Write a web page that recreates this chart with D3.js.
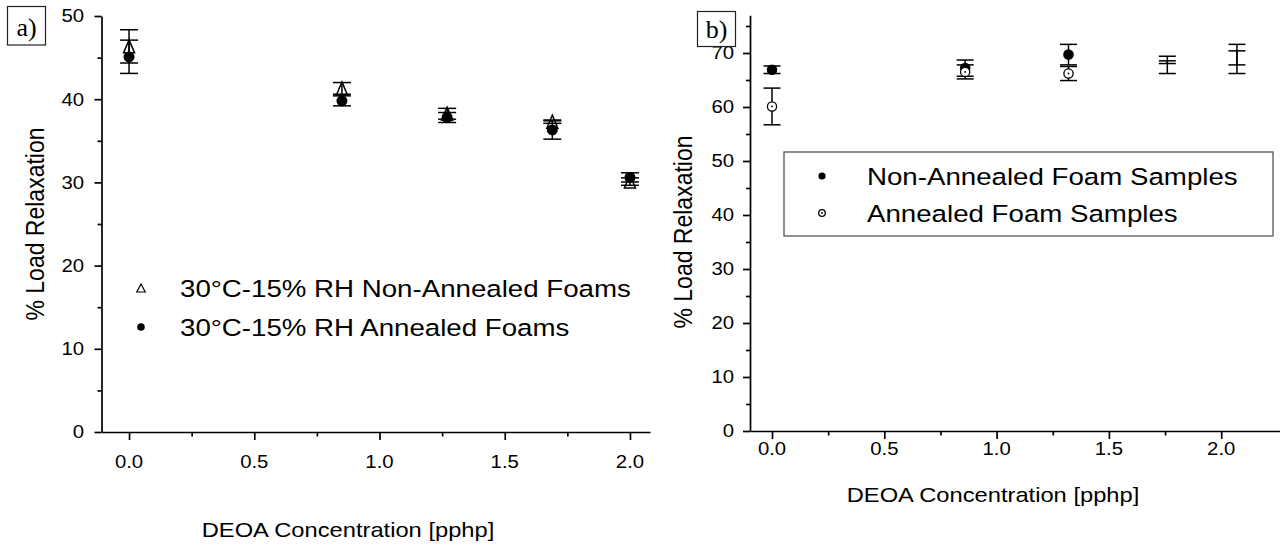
<!DOCTYPE html>
<html>
<head>
<meta charset="utf-8">
<script src="https://cdn.jsdelivr.net/npm/d3@7"></script>
<style>
  body { margin: 0; background: #fff; }
  text { font-family: "Liberation Sans", Arial, sans-serif; fill: #000; }
  .serif { font-family: "Liberation Serif", "Times New Roman", serif; }
</style>
</head>
<body>
<svg id="chart" width="1280" height="546"></svg>
<script>
// ---- Panel a: 30°C / 15% RH load relaxation ----
const concA = [0, 0.85, 1.27, 1.69, 2.0];
const nonAnnealedA = [46.35, 41.3, 38.25, 37.3, 30.1];
const nonAnnealedAErr = [2.0, 0.7, 0.65, 0.2, 0.45];
const annealedA = [45.1, 39.8, 37.8, 36.3, 30.6];
const annealedAErr = [2.0, 0.6, 0.6, 1.1, 0.55];
const yTicksA = [0, 10, 20, 30, 40, 50];
const yMinorA = [5, 15, 25, 35, 45];

// ---- Panel b: non-annealed vs annealed foam samples ----
const concB = [0, 0.86, 1.32, 1.76, 2.07];
const nonAnnealedB = [66.9, 67.2, 69.7, 67.8, 68.9];
const nonAnnealedBErr = [0.7, 1.5, 1.9, 1.6, 2.7];
const annealedB = [60.1, 66.5, 66.2, 68.3, 69.1];
const annealedBErr = [3.4, 1.3, 1.3, 0.25, 1.3];
const markerShownB = [true, true, true, false, false];
const yTicksB = [0, 10, 20, 30, 40, 50, 60, 70];
const yMinorB = [5, 15, 25, 35, 45, 55, 65, 75];

const xTicks = [0, 0.5, 1.0, 1.5, 2.0];
const xMinor = [0.25, 0.75, 1.25, 1.75];

const legendA = ["30°C-15% RH Non-Annealed Foams", "30°C-15% RH Annealed Foams"];
const legendB = ["Non-Annealed Foam Samples", "Annealed Foam Samples"];
const xTitle = "DEOA Concentration [pphp]";
const yTitle = "% Load Relaxation";

const svg = d3.select("#chart");
const SX = 1.13; // horizontal text stretch of the exported figure

function label(g, x, y, str, size, anchor, rotated, cls) {
  const t = g.append("text")
    .attr("transform", rotated
      ? `translate(${x},${y}) rotate(-90) scale(1,${SX})`
      : `translate(${x},${y}) scale(${SX},1)`)
    .attr("text-anchor", anchor)
    .attr("dy", "0.35em")
    .style("font-size", size + "px")
    .text(str);
  if (cls) t.attr("class", cls);
  return t;
}

function drawAxes(g, x, y, yMaj, yMin, opts) {
  const sw = 1.7;
  // y axis
  const ya = g.append("g").attr("transform", `translate(${x.range()[0]},0)`)
    .call(d3.axisLeft(y).tickValues(yMaj).tickSize(7).tickSizeOuter(0).tickFormat(""));
  g.append("g").attr("transform", `translate(${x.range()[0]},0)`)
    .call(d3.axisLeft(y).tickValues(yMin).tickSize(4).tickSizeOuter(0).tickFormat(""))
    .select(".domain").remove();
  // x axis
  const xa = g.append("g").attr("transform", `translate(0,${y.range()[0]})`)
    .call(d3.axisBottom(x).tickValues(xTicks).tickSize(8).tickSizeOuter(0).tickFormat(""));
  g.append("g").attr("transform", `translate(0,${y.range()[0]})`)
    .call(d3.axisBottom(x).tickValues(xMinor).tickSize(4.5).tickSizeOuter(0).tickFormat(""))
    .select(".domain").remove();
  g.selectAll(".domain, .tick line").attr("stroke", "#000").attr("stroke-width", sw);

  yMaj.forEach(v => label(g, opts.yLabelX, y(v), String(v), 18, "end"));
  xTicks.forEach(v => label(g, x(v), opts.xLabelY, v.toFixed(1), 18, "middle"));
  label(g, opts.xTitleX, opts.xTitleY, xTitle, 21, "middle");
  label(g, opts.yTitleX, opts.yTitleY, yTitle, 23, "middle", true);
}

function errorBars(g, x, y, xs, vals, errs, half) {
  xs.forEach((c, i) => {
    const cx = x(c), y1 = y(vals[i] + errs[i]), y2 = y(vals[i] - errs[i]);
    g.append("line").attr("x1", cx).attr("x2", cx).attr("y1", y1).attr("y2", y2)
      .attr("stroke", "#000").attr("stroke-width", 1.5);
    [y1, y2].forEach(yy => g.append("line")
      .attr("x1", cx - half).attr("x2", cx + half).attr("y1", yy).attr("y2", yy)
      .attr("stroke", "#000").attr("stroke-width", 1.5));
  });
}

function triangle(g, cx, cy, w, h, sw) {
  g.append("path")
    .attr("d", `M${cx},${cy - h / 2}L${cx + w / 2},${cy + h / 2}L${cx - w / 2},${cy + h / 2}Z`)
    .attr("fill", "none").attr("stroke", "#000").attr("stroke-width", sw);
}

function openCircle(g, cx, cy, r) {
  g.append("circle").attr("cx", cx).attr("cy", cy).attr("r", r)
    .attr("fill", "#fff").attr("stroke", "#000").attr("stroke-width", 1.3);
  g.append("circle").attr("cx", cx).attr("cy", cy).attr("r", 0.9).attr("fill", "#000");
}

// ---------------- Panel a ----------------
const gA = svg.append("g");
const xA = d3.scaleLinear().domain([-0.11, 2.08]).range([101.5, 650]);
const yA = d3.scaleLinear().domain([0, 50]).range([432, 16]);
drawAxes(gA, xA, yA, yTicksA, yMinorA, {
  yLabelX: 84, xLabelY: 462, xTitleX: 348, xTitleY: 530, yTitleX: 35, yTitleY: 224
});
concA.forEach((c, i) => triangle(gA, xA(c), yA(nonAnnealedA[i]), 11, 13, 1.5));
errorBars(gA, xA, yA, concA, nonAnnealedA, nonAnnealedAErr, 9);
errorBars(gA, xA, yA, concA, annealedA, annealedAErr, 9);
concA.forEach((c, i) => gA.append("circle")
  .attr("cx", xA(c)).attr("cy", yA(annealedA[i])).attr("r", 5.5).attr("fill", "#000"));

// legend a
triangle(gA, 141, 288, 8.5, 8, 1.2);
gA.append("circle").attr("cx", 141).attr("cy", 327).attr("r", 3.8).attr("fill", "#000");
label(gA, 180, 288, legendA[0], 24.5, "start");
label(gA, 180, 327, legendA[1], 24.5, "start");

// panel tag a)
gA.append("rect").attr("x", 7.5).attr("y", 6.5).attr("width", 38).attr("height", 38.5)
  .attr("fill", "#fff").attr("stroke", "#222").attr("stroke-width", 1.2);
gA.append("text").attr("class", "serif").attr("x", 26.5).attr("y", 36)
  .attr("text-anchor", "middle").style("font-size", "26px").text("a)");

// ---------------- Panel b ----------------
const gB = svg.append("g");
const xB = d3.scaleLinear().domain([-0.098, 2.2617]).range([750, 1280]);
const yB = d3.scaleLinear().domain([0, 77]).range([431, 15.2]);
drawAxes(gB, xB, yB, yTicksB, yMinorB, {
  yLabelX: 734, xLabelY: 449, xTitleX: 993, xTitleY: 495, yTitleX: 683, yTitleY: 232
});
errorBars(gB, xB, yB, concB, nonAnnealedB, nonAnnealedBErr, 8.5);
errorBars(gB, xB, yB, concB, annealedB, annealedBErr, 8.5);
concB.forEach((c, i) => {
  if (!markerShownB[i]) return;
  gB.append("circle").attr("cx", xB(c)).attr("cy", yB(nonAnnealedB[i])).attr("r", 5.3).attr("fill", "#000");
  openCircle(gB, xB(c), yB(annealedB[i]), 4.6);
});

// legend b
gB.append("rect").attr("x", 784).attr("y", 152).attr("width", 489).attr("height", 84)
  .attr("fill", "#fff").attr("stroke", "#555").attr("stroke-width", 1.3);
gB.append("circle").attr("cx", 822).attr("cy", 176).attr("r", 3.6).attr("fill", "#000");
openCircle(gB, 822, 213, 3.3);
label(gB, 867, 176, legendB[0], 24.5, "start");
label(gB, 867, 213, legendB[1], 24.5, "start");

// panel tag b)
gB.append("rect").attr("x", 697.5).attr("y", 11.5).attr("width", 38).attr("height", 35)
  .attr("fill", "#fff").attr("stroke", "#222").attr("stroke-width", 1.2);
gB.append("text").attr("class", "serif").attr("x", 716.5).attr("y", 38)
  .attr("text-anchor", "middle").style("font-size", "26px").text("b)");
</script>
</body>
</html>
